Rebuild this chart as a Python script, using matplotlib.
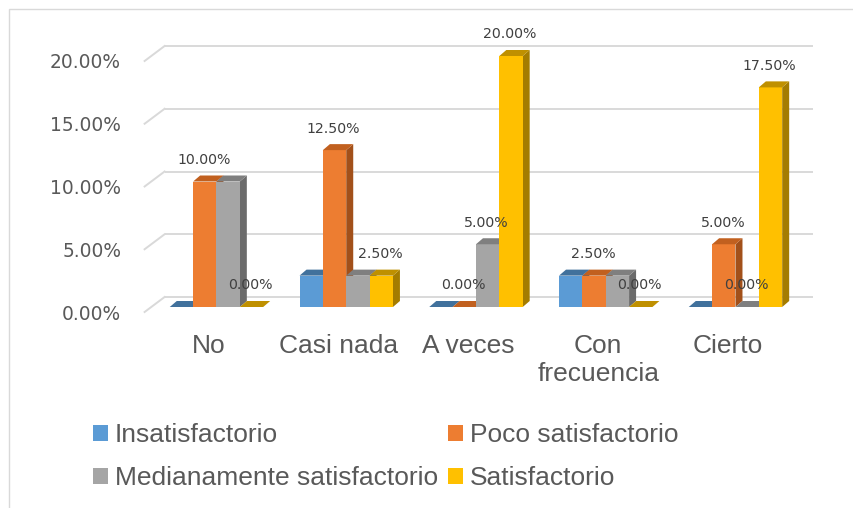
import matplotlib
matplotlib.use("Agg")
import matplotlib.pyplot as plt
from matplotlib.patches import Polygon, Rectangle, Patch

# datos
categorias = ['No', 'Casi nada', 'A veces', 'Con\nfrecuencia', 'Cierto']
series = ['Insatisfactorio', 'Poco satisfactorio',
          'Medianamente satisfactorio', 'Satisfactorio']
insatisfactorio = [0.0, 0.025, 0.0, 0.025, 0.0]
poco_satisfactorio = [0.10, 0.125, 0.0, 0.025, 0.05]
medianamente = [0.10, 0.025, 0.05, 0.025, 0.0]
satisfactorio = [0.0, 0.025, 0.20, 0.0, 0.175]
valores = [insatisfactorio, poco_satisfactorio, medianamente, satisfactorio]

# que etiquetas de datos se ven en el original
mostrar_insat = [0, 0, 0, 0, 0]
mostrar_poco = [1, 1, 1, 1, 1]
mostrar_medio = [0, 0, 1, 0, 1]
mostrar_satis = [1, 1, 1, 1, 1]
mostrar = [mostrar_insat, mostrar_poco, mostrar_medio, mostrar_satis]

yticks = [0.0, 0.05, 0.10, 0.15, 0.20]

# colores (frente, arriba, lado)
frente = ['#5B9BD5', '#ED7D31', '#A5A5A5', '#FFC000']
arriba = ['#41719C', '#C1601F', '#7F7F7F', '#BF9000']
lado = ['#3A6690', '#A2501A', '#6B6B6B', '#A47C00']
gris_txt = '#595959'

W, H = 854, 508
fig = plt.figure(figsize=(W / 100, H / 100), dpi=100)
ax = fig.add_axes([151.6 / W, 201 / H, 648.75 / W, 251 / H])
ax.set_xlim(-0.5, 4.5)
ax.set_ylim(0, 0.20)
ax.axis('off')

# pixeles por unidad de datos
p0 = ax.transData.transform((0, 0))
p1 = ax.transData.transform((1, 1))
kx, ky = p1[0] - p0[0], p1[1] - p0[1]

def px(dx, dy):
    return dx / kx, dy / ky

# marco del grafico
fig.add_artist(Rectangle((9.5 / W, -0.1), 2, 498.5 / H + 0.1, transform=fig.transFigure,
                         fill=False, edgecolor='#D9D9D9', lw=1))

# rejilla en la pared del fondo
bx, by = px(13, 10)
fx, fy = px(-7, -5)
for t in yticks:
    ax.plot([-0.5 + bx, 4.5 + bx], [t + by, t + by], color='#D9D9D9', lw=1.4,
            clip_on=False, zorder=1, solid_capstyle='butt')
    ax.plot([-0.5 + fx, -0.5 + bx], [t + fy, t + by], color='#D9D9D9', lw=1.4,
            clip_on=False, zorder=1)
    lx, ly = px(-23.5, -2)
    ax.text(-0.5 + fx + lx, t + fy + ly, f'{t * 100:.2f}%', ha='right', va='center',
            fontsize=13.4, color=gris_txt, family='DejaVu Sans')

# barras en falso 3D
w = 0.18
dx, dy = px(7, 6)
z = 2
for i in range(len(categorias)):
    for j in range(len(series)):
        h = valores[j][i]
        x0 = i + (j - 2) * w
        x1 = x0 + w
        if h > 0:
            ax.add_patch(Polygon([(x1, 0), (x1 + dx, dy), (x1 + dx, h + dy), (x1, h)],
                                 closed=True, facecolor=lado[j], edgecolor='none',
                                 clip_on=False, zorder=z))
            ax.add_patch(Rectangle((x0, 0), w, h, facecolor=frente[j], edgecolor='none',
                                   clip_on=False, zorder=z))
        ax.add_patch(Polygon([(x0, h), (x1, h), (x1 + dx, h + dy), (x0 + dx, h + dy)],
                             closed=True, facecolor=arriba[j], edgecolor='none',
                             clip_on=False, zorder=z))
        z += 0.01

# etiquetas de datos
for j in range(len(series)):
    for i in range(len(categorias)):
        if mostrar[j][i]:
            h = valores[j][i]
            xc = i + (j - 1.5) * w
            ax.annotate(f'{h * 100:.2f}%', (xc, h), xytext=(-0.7, 15.5),
                        textcoords='offset points', ha='center', va='center',
                        fontsize=10.2, color='#404040', family='DejaVu Sans',
                        annotation_clip=False, zorder=10)

# etiquetas de categorias
cx, cy = px(-7.5, -27)
for i, c in enumerate(categorias):
    ax.text(i + cx, cy, c, ha='center', va='top', fontsize=19, color=gris_txt,
            family='Liberation Sans', linespacing=1.2)

# leyenda
orden = [0, 2, 1, 3]
handles = [Patch(facecolor=frente[k], edgecolor='none') for k in orden]
labels = [series[k] for k in orden]
fig.legend(handles, labels, ncol=2, loc='upper left',
           bbox_to_anchor=(93 / W, 1 - 423 / H), frameon=False,
           prop={'family': 'Liberation Sans', 'size': 19}, labelcolor=gris_txt,
           handlelength=0.55, handleheight=0.55, handletextpad=0.28,
           columnspacing=0.38, labelspacing=0.72, borderpad=0, borderaxespad=0)

fig.savefig('out.png', dpi=100)
